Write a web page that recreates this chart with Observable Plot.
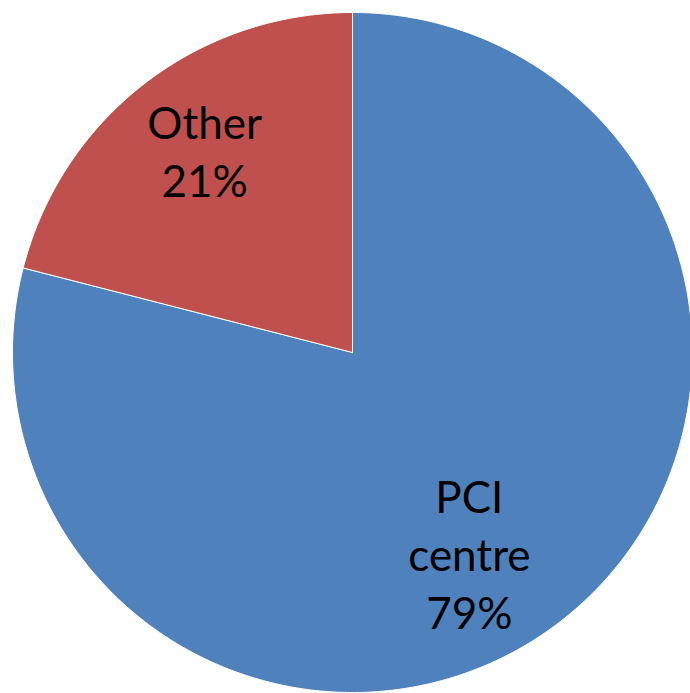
<!DOCTYPE html>
<html>
<head>
<meta charset="utf-8">
<script src="https://cdn.jsdelivr.net/npm/d3@7"></script>
<script src="https://cdn.jsdelivr.net/npm/@observablehq/plot@0.6"></script>
<style>
  html, body { margin: 0; padding: 0; background: #fff; }
  #chart svg { display: block; }
</style>
</head>
<body>
<div id="chart"></div>
<script>
const categories = ["PCI centre", "Other"];
const labels = ["PCI\ncentre\n79%", "Other\n21%"];
const values = [79, 21];
const colors = ["#4F81BD", "#C0504D"];

const pie = d3.pie().sort(null).value(d => d)(values);

// Build outline polygons of each slice in unit coordinates (y up)
const slicePts = [];
pie.forEach((p, i) => {
  const n = Math.max(2, Math.ceil((p.endAngle - p.startAngle) / 0.01));
  slicePts.push({cat: categories[i], x: 0, y: 0});
  for (let k = 0; k <= n; k++) {
    const a = p.startAngle + (p.endAngle - p.startAngle) * k / n;
    slicePts.push({cat: categories[i], x: Math.sin(a), y: Math.cos(a)});
  }
  slicePts.push({cat: categories[i], x: 0, y: 0});
});

const labelR = 0.7;
const labelData = pie.map((p, i) => {
  const a = (p.startAngle + p.endAngle) / 2;
  return {cat: categories[i], text: labels[i], x: labelR * Math.sin(a), y: labelR * Math.cos(a)};
});
const offsets = {"PCI centre": [-29, 12], "Other": [-2, -15]};

const chart = Plot.plot({
  width: 690,
  height: 693,
  margin: 0,
  x: {domain: [-1, 1], range: [12, 692], axis: null},
  y: {domain: [-1, 1], range: [692, 12], axis: null},
  color: {domain: categories, range: colors},
  style: {fontFamily: "Lato, 'Open Sans', sans-serif", background: "#fff"},
  marks: [
    Plot.line(slicePts, {x: "x", y: "y", z: "cat", fill: "cat", stroke: "#fff", strokeWidth: 1, curve: "linear-closed"}),
    ...labelData.map(d => Plot.text([d], {
      x: "x", y: "y", text: "text",
      fontSize: 44, lineHeight: 1.32, fill: "#000",
      dx: offsets[d.cat][0], dy: offsets[d.cat][1]
    }))
  ]
});
document.getElementById("chart").appendChild(chart);
</script>
</body>
</html>
